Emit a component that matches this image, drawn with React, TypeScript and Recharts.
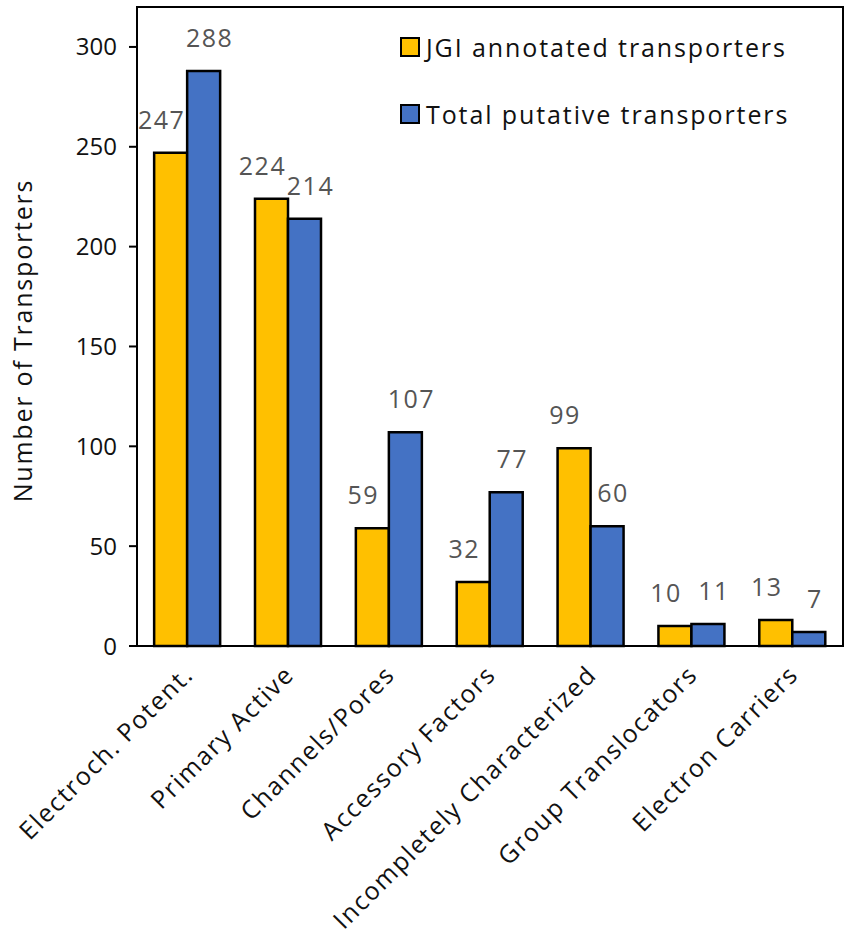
import React from "react";
import { BarChart, Bar, XAxis, YAxis, LabelList, usePlotArea } from "recharts";

const categories = [
  "Electroch. Potent.",
  "Primary Active",
  "Channels/Pores",
  "Accessory Factors",
  "Incompletely Characterized",
  "Group Translocators",
  "Electron Carriers",
];
const jgiAnnotated = [247, 224, 59, 32, 99, 10, 13];
const totalPutative = [288, 214, 107, 77, 60, 11, 7];
const yTicks = [0, 50, 100, 150, 200, 250, 300];

const seriesNames = ["JGI annotated transporters", "Total putative transporters"];
const colors = ["#FFC000", "#4472C4"];

const data = categories.map((name, i) => ({
  name,
  jgi: jgiAnnotated[i],
  total: totalPutative[i],
}));

const FONT = "'Open Sans', sans-serif";

function PlotBorder() {
  const area = usePlotArea();
  if (!area) return null;
  return (
    <rect
      x={area.x}
      y={area.y}
      width={area.width}
      height={area.height}
      fill="none"
      stroke="#000"
      strokeWidth={2}
    />
  );
}

function XTick(props: any) {
  const { x, y, payload } = props;
  const ax = x - 8;
  const ay = y + 7;
  return (
    <text
      x={ax}
      y={ay}
      transform={`rotate(-45, ${ax}, ${ay})`}
      textAnchor="end"
      dominantBaseline="hanging"
      fontFamily={FONT}
      fontSize={25}
      letterSpacing={1.6}
      fill="#111"
    >
      {payload.value}
    </text>
  );
}

function YLabel(props: any) {
  const { viewBox } = props;
  const cx = 22;
  const cy = viewBox.y + viewBox.height / 2 + 14;
  return (
    <text
      x={cx}
      y={cy}
      transform={`rotate(-90, ${cx}, ${cy})`}
      textAnchor="middle"
      dominantBaseline="central"
      fontFamily={FONT}
      fontSize={25}
      letterSpacing={1.8}
      fill="#111"
    >
      Number of Transporters
    </text>
  );
}

// value labels above the bars, nudged apart like in the original
function makeValueLabel(dx: number) {
  return function ValueLabel(props: any) {
    const { x, y, width, value } = props;
    return (
      <text
        x={x + width / 2 + dx}
        y={y - 24}
        textAnchor="middle"
        fontFamily={FONT}
        fontSize={25}
        letterSpacing={1.5}
        fill="#555"
      >
        {value}
      </text>
    );
  };
}

function LegendBox() {
  return (
    <div
      style={{
        position: "absolute",
        left: 400,
        top: 30,
        fontFamily: FONT,
        fontSize: 25,
        letterSpacing: 1.9,
        color: "#111",
      }}
    >
      {seriesNames.map((n, i) => (
        <div
          key={n}
          style={{ display: "flex", alignItems: "center", height: 34, marginBottom: i === 0 ? 33 : 0 }}
        >
          <span
            style={{
              display: "inline-block",
              width: 16,
              height: 16,
              background: colors[i],
              border: "2px solid #000",
              marginRight: 6,
            }}
          />
          <span>{n}</span>
        </div>
      ))}
    </div>
  );
}

export default function App() {
  return (
    <div style={{ position: "absolute", left: 0, top: 0, width: 850, height: 940, background: "#fff" }}>
      <BarChart
        width={850}
        height={940}
        data={data}
        margin={{ top: 7, right: 7, bottom: 0, left: 0 }}
        barCategoryGap="17%"
        barGap={0}
      >
        <XAxis
          dataKey="name"
          interval={0}
          height={294}
          tick={<XTick />}
          tickLine={false}
          axisLine={{ stroke: "#000", strokeWidth: 2 }}
        />
        <YAxis
          width={137}
          domain={[0, 320]}
          ticks={yTicks}
          tickSize={8}
          tickMargin={12}
          tickLine={{ stroke: "#000", strokeWidth: 2 }}
          axisLine={{ stroke: "#000", strokeWidth: 2 }}
          tick={{ fontFamily: FONT, fontSize: 24, fill: "#111" }}
          label={<YLabel />}
        />
        <Bar dataKey="jgi" name={seriesNames[0]} fill={colors[0]} stroke="#000" strokeWidth={2.5} isAnimationActive={false}>
          <LabelList dataKey="jgi" content={makeValueLabel(-9)} />
        </Bar>
        <Bar dataKey="total" name={seriesNames[1]} fill={colors[1]} stroke="#000" strokeWidth={2.5} isAnimationActive={false}>
          <LabelList dataKey="total" content={makeValueLabel(6)} />
        </Bar>
        <PlotBorder />
      </BarChart>
      <LegendBox />
    </div>
  );
}
